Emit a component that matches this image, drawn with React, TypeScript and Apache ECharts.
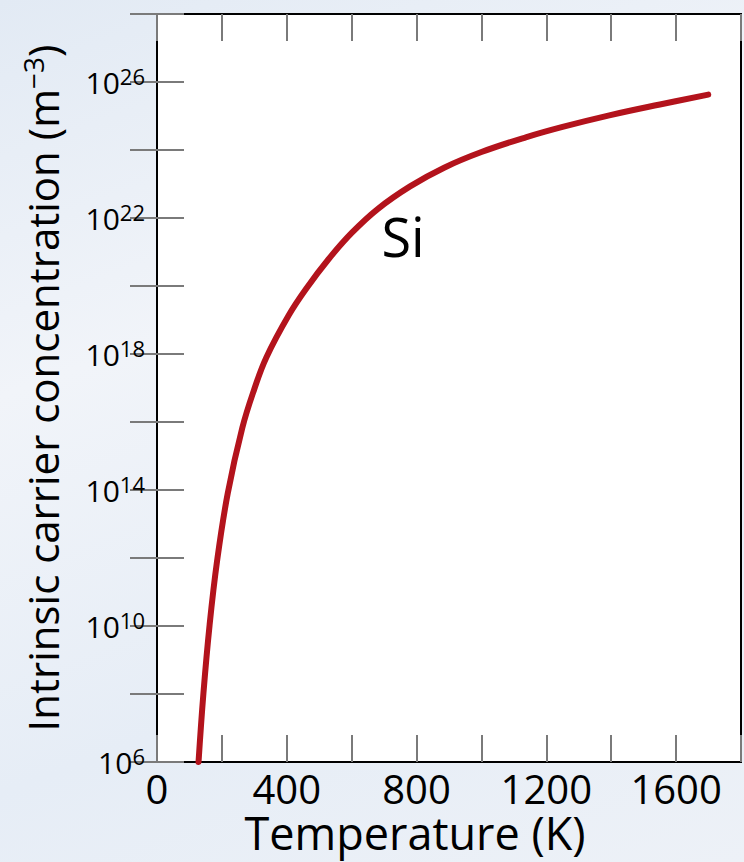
import React, { useEffect, useRef } from "react";
import * as echarts from "echarts";

// Temperature (K) and log10 of intrinsic carrier concentration (m^-3)
const temperatureK = [128, 143, 162, 185, 218, 263, 300, 337, 406, 462, 528, 600, 681, 780, 885, 1000, 1139, 1250, 1394, 1550, 1699];
const log10Concentration = [6, 8.01, 10.02, 11.9, 13.9, 15.83, 16.97, 17.9, 19.14, 19.95, 20.78, 21.56, 22.27, 22.93, 23.48, 23.94, 24.38, 24.68, 25.02, 25.34, 25.63];

const xTickLabels = [0, 400, 800, 1200, 1600];
const yTickLabelExponents = [6, 10, 14, 18, 22, 26];

const FONT = "Open Sans";

export default function App() {
  const ref = useRef<HTMLDivElement>(null);
  useEffect(() => {
    if (!ref.current) return;
    const chart = echarts.init(ref.current, undefined, { renderer: "svg" });
    const data = temperatureK.map((t, i) => [t, log10Concentration[i]]);
    const tickStyle = { show: true, inside: true, length: 27, lineStyle: { color: "#7a7a7a", width: 2 } };
    chart.setOption({
      animation: false,
      backgroundColor: "transparent",
      grid: {
        left: 157,
        top: 14,
        right: -3,
        bottom: 100,
        show: true,
        backgroundColor: "#ffffff",
        borderColor: "#000000",
        borderWidth: 2,
      },
      xAxis: [
        {
          type: "value",
          min: 0,
          max: 1800,
          interval: 200,
          position: "bottom",
          axisLine: { show: true, lineStyle: { color: "#000", width: 2 } },
          axisTick: tickStyle,
          splitLine: { show: false },
          axisLabel: {
            margin: 6,
            fontFamily: FONT,
            fontSize: 40,
            lineHeight: 40,
            color: "#000",
            formatter: (v: number) => (xTickLabels.includes(v) ? String(v) : ""),
          },
        },
        {
          type: "value",
          min: 0,
          max: 1800,
          interval: 200,
          position: "top",
          axisLine: { show: false },
          axisTick: tickStyle,
          splitLine: { show: false },
          axisLabel: { show: false },
        },
      ],
      yAxis: [
        {
          type: "value",
          min: 6,
          max: 28,
          interval: 2,
          position: "left",
          axisLine: { show: true, lineStyle: { color: "#000", width: 2 } },
          axisTick: tickStyle,
          splitLine: { show: false },
          axisLabel: {
            margin: 12,
            fontFamily: FONT,
            color: "#000",
            formatter: (v: number) => (yTickLabelExponents.includes(v) ? `{b|10}{s|${v}}` : ""),
            rich: {
              b: { fontFamily: FONT, fontSize: 30, color: "#000", lineHeight: 34 },
              s: { fontFamily: FONT, fontSize: 22, color: "#000", verticalAlign: "top", padding: [0, 0, 12, 0] },
            },
          },
          name: "Intrinsic carrier concentration (m{s|−3})",
          nameLocation: "middle",
          nameGap: 92,
          nameRotate: 90,
          nameTextStyle: {
            fontFamily: FONT,
            fontSize: 42,
            color: "#000",
            rich: {
              s: { fontFamily: FONT, fontSize: 28, color: "#000", padding: [0, 0, 18, 0] },
            },
          },
        },
        {
          type: "value",
          min: 6,
          max: 28,
          interval: 2,
          position: "right",
          axisLine: { show: false },
          axisTick: tickStyle,
          splitLine: { show: false },
          axisLabel: { show: false },
        },
      ],
      graphic: [
        {
          type: "text",
          x: 415,
          y: 832,
          style: {
            text: "Temperature (K)",
            fontFamily: FONT,
            fontSize: 45,
            lineHeight: 45,
            fill: "#000",
            align: "center",
            verticalAlign: "middle",
          },
        },
        {
          type: "text",
          x: 403,
          y: 236,
          z: 10,
          style: {
            text: "Si",
            fontFamily: FONT,
            fontSize: 54,
            fill: "#000",
            align: "center",
            verticalAlign: "middle",
          },
        },
      ],
      series: [
        {
          type: "line",
          data,
          xAxisIndex: 0,
          yAxisIndex: 0,
          showSymbol: false,
          smooth: 0.4,
          lineStyle: { color: "#b3131c", width: 6, cap: "round" },
        },
      ],
    });
    return () => chart.dispose();
  }, []);
  return (
    <div
      ref={ref}
      style={{
        position: "absolute",
        left: 0,
        top: 0,
        width: 744,
        height: 862,
        background: "linear-gradient(160deg, #e2eaf4 0%, #f1f4f9 35%, #e6edf6 70%, #edf1f7 100%)",
      }}
    />
  );
}
